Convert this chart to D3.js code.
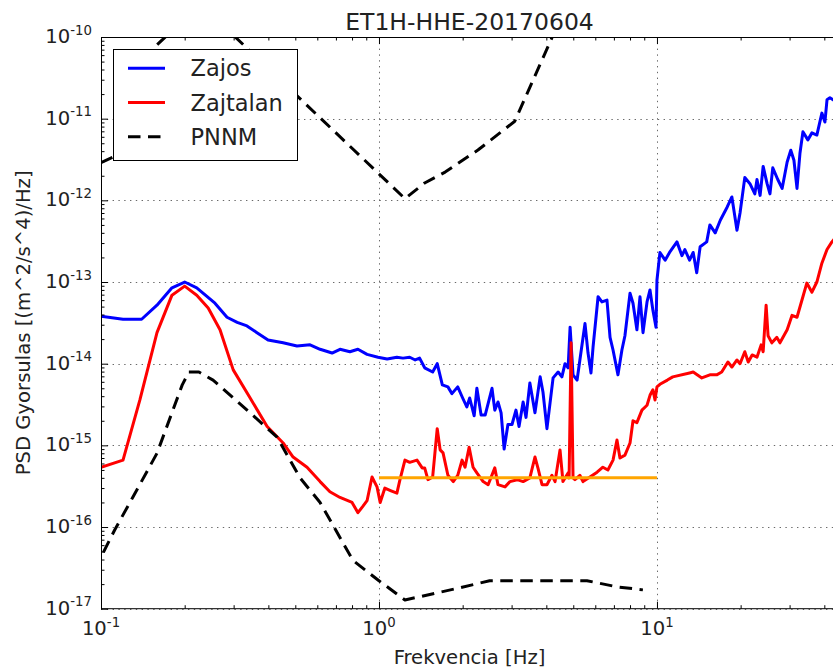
<!DOCTYPE html>
<html>
<head>
<meta charset="utf-8">
<title>ET1H-HHE-20170604</title>
<script src="https://d3js.org/d3.v7.min.js"></script>
<style>
body { margin: 0; background: #fff; }
svg { display: block; font-family: "DejaVu Sans", sans-serif; }
</style>
</head>
<body>
<script>

// values
var zajosFreq = [0.100,0.120,0.140,0.159,0.180,0.200,0.221,0.257,0.284,0.309,
  0.335,0.364,0.399,0.452,0.507,0.565,0.614,0.678,0.724,0.786,
  0.840,0.906,0.992,1.07,1.16,1.22,1.29,1.35,1.40,1.46,
  1.56,1.62,1.69,1.77,1.83,1.92,2.00,2.07,2.12,2.20,
  2.25,2.33,2.41,2.55,2.61,2.68,2.75,2.82,2.91,3.01,
  3.11,3.19,3.30,3.38,3.49,3.64,3.80,3.89,4.02,4.23,
  4.41,4.55,4.67,4.79,4.87,4.99,5.16,5.28,5.51,5.65,
  5.79,5.89,6.14,6.34,6.61,6.78,6.95,7.24,7.48,7.67,
  8.00,8.20,8.47,8.69,8.91,9.21,9.44,9.67,9.92,10.0,
  10.25,10.7,11.1,11.8,12.3,12.6,13.1,13.5,13.9,14.3,
  15.1,15.5,16.2,16.9,17.9,18.6,19.4,19.9,20.7,21.6,
  22.5,22.9,23.5,24.1,24.9,25.5,26.1,27.2,28.2,29.4,
  30.3,31.1,31.9,32.7,33.5,34.9,36.1,37.6,39.2,40.2,
  40.9,41.9,43.0,44.8];
var zajosPsd = [3.8e-14,3.5e-14,3.5e-14,5.2e-14,8.5e-14,1.0e-13,8.5e-14,5.5e-14,3.7e-14,3.2e-14,
  2.9e-14,2.4e-14,1.95e-14,1.8e-14,1.65e-14,1.7e-14,1.5e-14,1.35e-14,1.5e-14,1.4e-14,
  1.5e-14,1.3e-14,1.2e-14,1.14e-14,1.2e-14,1.17e-14,1.2e-14,1.11e-14,1.17e-14,8.9e-15,
  7.9e-15,1.0e-14,5.5e-15,5.2e-15,4.3e-15,5.2e-15,3.8e-15,2.95e-15,3.8e-15,2.3e-15,
  5.0e-15,2.35e-15,2.35e-15,5.0e-15,2.7e-15,3.4e-15,2.5e-15,9.0e-16,1.8e-15,1.8e-15,
  2.7e-15,1.7e-15,3.4e-15,2.2e-15,5.8e-15,2.5e-15,6.9e-15,4.5e-15,1.6e-15,6.7e-15,
  7.9e-15,6.9e-15,1.0e-14,8.9e-15,2.8e-14,7.3e-15,6.3e-15,1.1e-14,3.1e-14,1.35e-14,
  7.7e-15,1.6e-14,6.6e-14,5.7e-14,6.0e-14,2.1e-14,1.47e-14,7.3e-15,1.47e-14,2.2e-14,
  7.3e-14,5.5e-14,2.6e-14,6.6e-14,2.4e-14,5.7e-14,8.0e-14,4.5e-14,2.8e-14,1.05e-13,
  2.3e-13,1.85e-13,2.3e-13,3.1e-13,2.1e-13,2.5e-13,1.85e-13,2.3e-13,1.3e-13,2.7e-13,
  3.1e-13,5.0e-13,4.0e-13,5.7e-13,8.3e-13,1.1e-12,4.3e-13,7.0e-13,1.9e-12,1.6e-12,
  1.2e-12,1.8e-12,1.15e-12,2.6e-12,1.6e-12,1.2e-12,2.5e-12,1.8e-12,1.4e-12,2.95e-12,
  4.1e-12,3.1e-12,1.4e-12,3.8e-12,6.9e-12,5.5e-12,6.7e-12,6.3e-12,1.17e-11,9.1e-12,
  1.7e-11,1.8e-11,1.7e-11,1.95e-11];

var zajtalanFreq = [0.100,0.120,0.138,0.159,0.180,0.200,0.221,0.243,0.268,0.299,
  0.344,0.396,0.452,0.491,0.551,0.614,0.666,0.724,0.800,0.840,
  0.876,0.906,0.944,0.984,1.01,1.05,1.10,1.16,1.19,1.24,
  1.29,1.37,1.43,1.46,1.50,1.56,1.62,1.66,1.70,1.77,
  1.85,1.92,1.99,2.04,2.11,2.18,2.25,2.37,2.47,2.61,
  2.68,2.84,2.96,3.14,3.30,3.49,3.64,3.73,3.86,4.02,
  4.19,4.30,4.48,4.59,4.79,4.83,4.91,4.99,5.07,5.28,
  5.42,5.74,6.09,6.39,6.66,6.95,7.18,7.36,7.67,8.00,
  8.20,8.47,8.83,9.21,9.44,9.67,9.84,10.0,10.25,10.9,
  11.4,13.1,13.5,14.5,15.5,16.4,17.1,18.0,18.6,19.4,
  19.9,20.7,21.3,22.0,22.9,23.7,24.1,24.7,25.1,25.9,
  27.0,27.7,29.4,30.6,31.9,33.5,34.6,36.1,37.6,39.2,
  40.9,42.6,44.8];
var zajtalanPsd = [5.4e-16,6.6e-16,3.6e-15,2.4e-14,6.9e-14,8.9e-14,6.9e-14,4.8e-14,2.6e-14,8.4e-15,
  3.8e-15,1.7e-15,1.07e-15,7.2e-16,5.4e-16,3.6e-16,2.7e-16,2.3e-16,2.0e-16,1.5e-16,
  1.8e-16,2.1e-16,4.1e-16,3.1e-16,2.0e-16,3.0e-16,2.8e-16,2.6e-16,3.8e-16,6.6e-16,
  6.2e-16,6.6e-16,5.3e-16,5.3e-16,3.8e-16,4.1e-16,1.6e-15,8.8e-16,8.1e-16,4.3e-16,
  3.6e-16,4.3e-16,6.6e-16,5.4e-16,9.5e-16,5.4e-16,4.6e-16,3.6e-16,3.3e-16,5.3e-16,
  3.3e-16,3.1e-16,3.6e-16,3.8e-16,3.6e-16,4.0e-16,7.2e-16,5.3e-16,3.3e-16,3.3e-16,
  4.3e-16,3.6e-16,8.8e-16,3.6e-16,4.6e-16,4.0e-16,1.8e-14,4.0e-16,3.8e-16,4.3e-16,
  3.6e-16,4.1e-16,4.7e-16,5.4e-16,5.0e-16,6.6e-16,1.16e-15,7.0e-16,7.6e-16,1.07e-15,
  2.0e-15,1.9e-15,2.7e-15,3.1e-15,4.1e-15,4.8e-15,3.6e-15,5.2e-15,5.6e-15,6.3e-15,
  6.9e-15,7.7e-15,7.9e-15,6.7e-15,7.3e-15,7.3e-15,7.9e-15,1.05e-14,9.1e-15,1.11e-14,
  1.0e-14,1.4e-14,1.05e-14,1.28e-14,1.2e-14,1.7e-14,1.4e-14,5.2e-14,2.2e-14,1.8e-14,
  2.1e-14,1.8e-14,2.6e-14,3.9e-14,3.7e-14,6.6e-14,9.7e-14,7.5e-14,1.0e-13,1.7e-13,
  2.5e-13,3.1e-13,3.8e-13];

// PNNM: low and high branch, same style, one legend entry
var pnnmLowFreq = [0.102,0.112,0.130,0.159,0.196,0.207,0.225,0.253,0.344,0.430,0.520,0.614,0.806,1.0,1.24,1.40,1.95,2.50,5.6,7.2,8.9];
var pnnmLowPsd = [4.9e-17,9.2e-17,2.3e-16,8.0e-16,5.5e-15,7.9e-15,7.9e-15,6.3e-15,2.5e-15,1.26e-15,4.0e-16,2.0e-16,3.9e-17,2.2e-17,1.28e-17,1.4e-17,1.8e-17,2.2e-17,2.2e-17,1.85e-17,1.7e-17];
var pnnmHighFreq = [0.100,0.127,0.159,0.217,0.263,1.24,1.46,1.73,2.27,3.08,4.19,4.5];
var pnnmHighPsd = [2.9e-12,4.2e-12,8e-11,2.2e-10,1.6e-10,1.05e-12,1.63e-12,2.22e-12,4.13e-12,9.3e-12,9.8e-11,1.8e-10];

// horizontal reference level 1-10 Hz
var levelFreq = [1, 10];
var levelPsd = [4e-16, 4e-16];

var xDecades = [0.1, 1, 10];
var yDecades = [1e-17, 1e-16, 1e-15, 1e-14, 1e-13, 1e-12, 1e-11, 1e-10];
var xTickExp = ['-1', '0', '1'];
var yTickExp = ['-17', '-16', '-15', '-14', '-13', '-12', '-11', '-10'];

var legendNames = ['Zajos', 'Zajtalan', 'PNNM'];

var width = 833,
    height = 671;
var pLeft = 101, pTop = 37, pRight = 838, pBottom = 608.7;

var svg = d3.select('body')
  .append('svg')
  .attr('width', width)
  .attr('height', height);

svg.append('rect').attr('width', width).attr('height', height).attr('fill', '#fff');

var x = d3.scaleLog().domain([0.1, 44.8]).range([pLeft, pRight]);
var y = d3.scaleLog().domain([1e-17, 1e-10]).range([pBottom, pTop]);

function isMajor(v) {
  var l = Math.log10(v);
  return Math.abs(l - Math.round(l)) < 1e-6;
}
var xMinor = x.ticks().filter(function(v) { return !isMajor(v); });
var yMinor = y.ticks().filter(function(v) { return !isMajor(v); });

// grid
var grid = svg.append('g')
  .attr('stroke', '#444')
  .attr('stroke-width', 0.8)
  .attr('stroke-dasharray', '1.4,4.4');
grid.selectAll('.gx').data(xDecades).enter().append('line')
  .attr('x1', function(d) { return Math.round(x(d)) + 0.5; })
  .attr('x2', function(d) { return Math.round(x(d)) + 0.5; })
  .attr('y1', pTop).attr('y2', pBottom);
grid.selectAll('.gy').data(yDecades).enter().append('line')
  .attr('y1', function(d) { return Math.round(y(d)) + 0.5; })
  .attr('y2', function(d) { return Math.round(y(d)) + 0.5; })
  .attr('x1', pLeft).attr('x2', pRight);

// lines
svg.append('clipPath').attr('id', 'plotclip')
  .append('rect').attr('x', pLeft).attr('y', pTop)
  .attr('width', pRight - pLeft).attr('height', pBottom - pTop);

var line = d3.line()
  .x(function(d) { return x(d[0]); })
  .y(function(d) { return y(d[1]); });

var plot = svg.append('g').attr('clip-path', 'url(#plotclip)')
  .attr('fill', 'none')
  .attr('stroke-linejoin', 'round');

plot.append('path')
  .attr('d', line(d3.zip(zajosFreq, zajosPsd)))
  .attr('stroke', '#0000ff').attr('stroke-width', 3);
plot.append('path')
  .attr('d', line(d3.zip(zajtalanFreq, zajtalanPsd)))
  .attr('stroke', '#ff0000').attr('stroke-width', 3);
plot.append('path')
  .attr('d', line(d3.zip(pnnmLowFreq, pnnmLowPsd)))
  .attr('stroke', '#000').attr('stroke-width', 3).attr('stroke-dasharray', '12.5,7.5');
plot.append('path')
  .attr('d', line(d3.zip(pnnmHighFreq, pnnmHighPsd)))
  .attr('stroke', '#000').attr('stroke-width', 3).attr('stroke-dasharray', '12.5,7.5');
plot.append('path')
  .attr('d', line(d3.zip(levelFreq, levelPsd)))
  .attr('stroke', '#ffa500').attr('stroke-width', 3);

// ticks (inside), via d3 axes
function tickAxis(axis, tr) {
  var g = svg.append('g').attr('transform', tr).call(axis);
  g.select('.domain').remove();
  g.selectAll('line').attr('stroke', '#000');
  return g;
}
tickAxis(d3.axisBottom(x).tickValues(xDecades).tickSize(-7).tickFormat(''), 'translate(0,' + pBottom + ')');
tickAxis(d3.axisBottom(x).tickValues(xMinor).tickSize(-3.5).tickFormat(''), 'translate(0,' + pBottom + ')');
tickAxis(d3.axisTop(x).tickValues(xDecades).tickSize(-7).tickFormat(''), 'translate(0,' + pTop + ')');
tickAxis(d3.axisTop(x).tickValues(xMinor).tickSize(-3.5).tickFormat(''), 'translate(0,' + pTop + ')');
tickAxis(d3.axisLeft(y).tickValues(yDecades).tickSize(-7).tickFormat(''), 'translate(' + pLeft + ',0)');
tickAxis(d3.axisLeft(y).tickValues(yMinor).tickSize(-3.5).tickFormat(''), 'translate(' + pLeft + ',0)');

// frame
svg.append('rect')
  .attr('x', pLeft + 0.5).attr('y', pTop + 0.5)
  .attr('width', pRight - pLeft).attr('height', pBottom - pTop - 0.5)
  .attr('fill', 'none').attr('stroke', '#000').attr('stroke-width', 1);

// tick labels
var xl = svg.append('g').attr('font-size', 19.6).attr('fill', '#222');
xDecades.forEach(function(v, i) {
  var t = xl.append('text')
    .attr('x', x(v)).attr('y', 634.5)
    .attr('text-anchor', 'middle');
  t.append('tspan').text('10');
  t.append('tspan').attr('dy', -8).attr('font-size', 13.3).text(xTickExp[i]);
});
var yl = svg.append('g').attr('font-size', 19.6).attr('fill', '#222');
yDecades.forEach(function(v, i) {
  var t = yl.append('text')
    .attr('x', 92).attr('y', y(v) + 6)
    .attr('text-anchor', 'end');
  t.append('tspan').text('10');
  t.append('tspan').attr('dy', -8.5).attr('font-size', 13.3).text(yTickExp[i]);
});

// title and axis labels
svg.append('text')
  .attr('x', (pLeft + pRight) / 2).attr('y', 29.5)
  .attr('text-anchor', 'middle').attr('font-size', 23.5).attr('fill', '#222')
  .text('ET1H-HHE-20170604');
svg.append('text')
  .attr('x', (pLeft + pRight) / 2).attr('y', 664)
  .attr('text-anchor', 'middle').attr('font-size', 19.6).attr('fill', '#222')
  .text('Frekvencia [Hz]');
svg.append('text')
  .attr('transform', 'translate(30,' + ((pTop + pBottom) / 2) + ') rotate(-90)')
  .attr('text-anchor', 'middle').attr('font-size', 19.6).attr('fill', '#222')
  .text('PSD Gyorsulas [(m^2/s^4)/Hz]');

// legend
var legend = svg.append('g');
legend.append('rect')
  .attr('x', 113.5).attr('y', 49.5).attr('width', 184).attr('height', 111)
  .attr('fill', '#fff').attr('stroke', '#000').attr('stroke-width', 1);
var legendColors = ['#0000ff', '#ff0000', '#000'];
var legendDash = [null, null, '12.5,7.5'];
var legendY = d3.scalePoint().domain(legendNames).range([68.3, 136.7]);
legendNames.forEach(function(name, i) {
  legend.append('line')
    .attr('x1', 128).attr('x2', 165)
    .attr('y1', legendY(name)).attr('y2', legendY(name))
    .attr('stroke', legendColors[i]).attr('stroke-width', 3)
    .attr('stroke-dasharray', legendDash[i]);
  legend.append('text')
    .attr('x', 190.5).attr('y', legendY(name) + 8)
    .attr('font-size', 22.5).attr('fill', '#222')
    .text(name);
});

</script>
</body>
</html>
